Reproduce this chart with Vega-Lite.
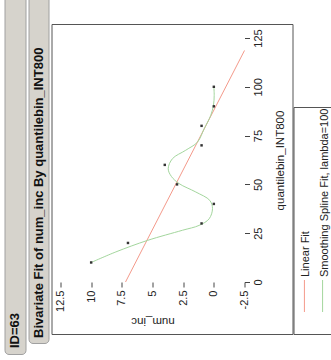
{
  "$schema": "https://vega.github.io/schema/vega-lite/v6.json",
  "padding": {"left": 3.5, "top": -6, "right": 0, "bottom": 0},
  "background": "white",
  "spacing": 1,
  "config": {"font": "Liberation Sans", "view": {"stroke": null}},
  "datasets": {
    "points": [
      {"q": 10, "num_inc": 10}, {"q": 20, "num_inc": 7}, {"q": 30, "num_inc": 1},
      {"q": 40, "num_inc": 0}, {"q": 50, "num_inc": 3}, {"q": 60, "num_inc": 4},
      {"q": 70, "num_inc": 1}, {"q": 80, "num_inc": 1}, {"q": 90, "num_inc": 0},
      {"q": 100, "num_inc": 0}
    ],
    "linear": [{"q": 0, "num_inc": 7.2}, {"q": 118.6, "num_inc": -2.5}],
    "spline": [
      {"q": 10, "num_inc": 10}, {"q": 15.4, "num_inc": 7.99}, {"q": 21.3, "num_inc": 5.41},
      {"q": 26.5, "num_inc": 2.56}, {"q": 29, "num_inc": 1.2}, {"q": 32.4, "num_inc": 0.38},
      {"q": 37.6, "num_inc": 0.11}, {"q": 41.8, "num_inc": 0.33}, {"q": 46.1, "num_inc": 1.47},
      {"q": 50.4, "num_inc": 2.83}, {"q": 54, "num_inc": 3.45}, {"q": 58, "num_inc": 3.72},
      {"q": 63.2, "num_inc": 3.37}, {"q": 67.5, "num_inc": 2.29}, {"q": 71.7, "num_inc": 1.33},
      {"q": 78.5, "num_inc": 0.79}, {"q": 85.4, "num_inc": 0.25}, {"q": 90.5, "num_inc": 0.03},
      {"q": 95.6, "num_inc": -0.03}, {"q": 100, "num_inc": 0}
    ],
    "legend": [{"fit": "Linear Fit"}, {"fit": "Smoothing Spline Fit, lambda=100"}]
  },
  "hconcat": [
    {
      "width": 21, "height": 359,
      "view": {"fill": "#d6d3cc", "stroke": "#a0a0a0", "cornerRadius": 4},
      "data": {"values": [{"label": "ID=63"}]},
      "mark": {"type": "text", "angle": -90, "align": "left", "baseline": "middle", "fontWeight": "bold", "fontSize": 13, "y": "height", "dx": 6, "color": "#111"},
      "encoding": {"text": {"field": "label"}}
    },
    {
      "width": 20, "height": 348,
      "view": {"fill": "#d6d3cc", "stroke": "#a0a0a0", "cornerRadius": 4},
      "data": {"values": [{"label": "Bivariate Fit of num_inc By quantilebin_INT800"}]},
      "mark": {"type": "text", "angle": -90, "align": "left", "baseline": "middle", "fontWeight": "bold", "fontSize": 13, "y": "height", "dx": 5, "color": "#111"},
      "encoding": {"text": {"field": "label"}}
    },
    {
      "spacing": -1,
      "hconcat": [
        {
          "spacing": 0,
          "vconcat": [
            {"width": 241, "height": 28, "data": {"values": []}, "mark": "point"},
            {
              "width": 241, "height": 310,
              "view": {"stroke": "#555", "fill": "white"},
              "encoding": {
                "x": {"field": "num_inc", "type": "quantitative",
                  "scale": {"domain": [-6.413, 13.234], "reverse": true, "nice": false, "zero": false},
                  "axis": {"orient": "bottom", "offset": -52, "values": [12.5, 10, 7.5, 5, 2.5, 0, -2.5],
                    "labelExpr": "'' + datum.value", "labelAngle": -90, "labelAlign": "right", "labelBaseline": "middle",
                    "tickSize": 5, "labelPadding": 3, "domain": false, "grid": false, "tickColor": "#444",
                    "labelFontSize": 11, "labelColor": "#222", "labelFlush": false, "labelOverlap": false,
                    "title": "num_inc", "titleAngle": 180, "titleBaseline": "bottom", "titlePadding": 4,
                    "titleX": 101, "titleFontSize": 11.5, "titleFontWeight": "normal", "titleColor": "#222"}},
                "y": {"field": "q", "type": "quantitative",
                  "scale": {"domain": [-26.64, 132.17], "nice": false, "zero": false},
                  "axis": {"orient": "right", "offset": -48, "values": [0, 25, 50, 75, 100, 125],
                    "labelAngle": -90, "labelAlign": "center", "labelBaseline": "top",
                    "tickSize": 5, "labelPadding": 3, "domain": false, "grid": false, "tickColor": "#444",
                    "labelFontSize": 11, "labelColor": "#222", "labelFlush": false, "labelOverlap": false,
                    "title": "quantilebin_INT800", "titleAngle": 270, "titleBaseline": "top",
                    "titleX": 30, "titleY": 136, "titleFontSize": 11.5, "titleFontWeight": "normal", "titleColor": "#222"}}
              },
              "layer": [
                {
                  "data": {"values": [{}]},
                  "mark": {"type": "rect", "fill": null, "stroke": "#808080", "strokeWidth": 1},
                  "encoding": {
                    "x": {"datum": 12.5, "type": "quantitative"}, "x2": {"datum": -2.5},
                    "y": {"datum": 0, "type": "quantitative"}, "y2": {"datum": 125}
                  }
                },
                {
                  "data": {"name": "linear"},
                  "mark": {"type": "line", "color": "#f49a8b", "strokeWidth": 1},
                  "encoding": {"order": {"field": "q"}}
                },
                {
                  "data": {"name": "spline"},
                  "mark": {"type": "line", "color": "#a3d69d", "strokeWidth": 1, "interpolate": "catmull-rom"},
                  "encoding": {"order": {"field": "q"}}
                },
                {
                  "data": {"name": "points"},
                  "mark": {"type": "point", "shape": "square", "filled": true, "size": 6, "color": "#333", "opacity": 1}
                }
              ]
            }
          ]
        },
        {
          "spacing": 0,
          "vconcat": [
            {"width": 40, "height": 111, "data": {"values": []}, "mark": "point"},
            {
              "width": 40, "height": 227,
              "view": {"stroke": "#555", "fill": "white"},
              "data": {"name": "legend"},
              "encoding": {"x": {"field": "fit", "type": "nominal", "sort": null, "scale": {"type": "point", "padding": 0.6}, "axis": null}},
              "layer": [
                {
                  "mark": {"type": "rule", "y": 173, "y2": 205, "strokeWidth": 1},
                  "encoding": {"color": {"field": "fit", "type": "nominal", "sort": null,
                    "scale": {"domain": ["Linear Fit", "Smoothing Spline Fit, lambda=100"], "range": ["#f49a8b", "#a3d69d"]}, "legend": null}}
                },
                {
                  "mark": {"type": "text", "angle": -90, "align": "left", "baseline": "middle", "dy": 2, "y": 170, "fontSize": 11, "color": "#222"},
                  "encoding": {"text": {"field": "fit"}}
                }
              ]
            }
          ]
        }
      ]
    }
  ]
}
